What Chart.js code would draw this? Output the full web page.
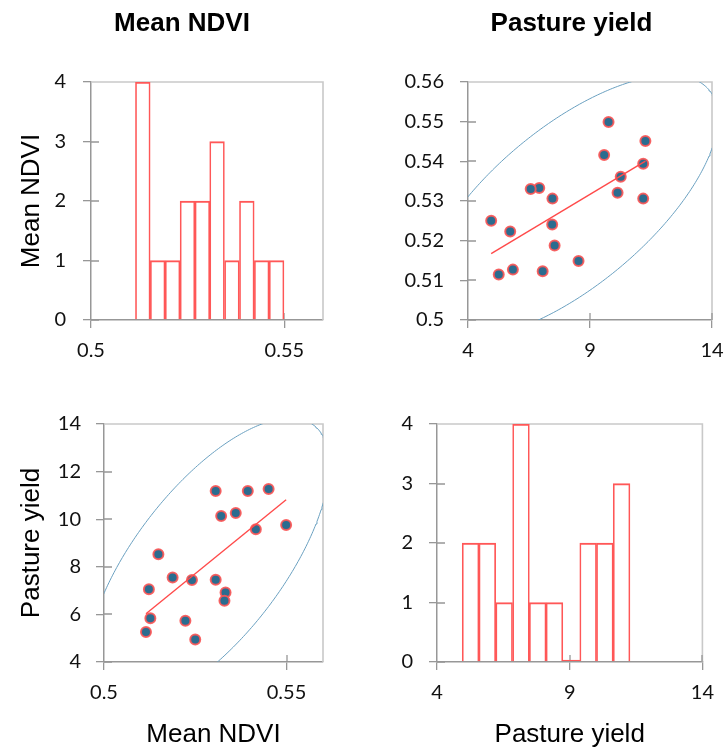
<!DOCTYPE html>
<html><head><meta charset="utf-8">
<script src="https://cdn.jsdelivr.net/npm/chart.js@4.4.1/dist/chart.umd.min.js"></script>
<style>
html,body{margin:0;padding:0;background:#fff;width:725px;height:751px;overflow:hidden;position:relative}
canvas{position:absolute;display:block}
</style></head><body>
<canvas id="tl" width="353" height="370" style="left:0;top:0;width:353px;height:370px"></canvas>
<canvas id="tr" width="392" height="370" style="left:353px;top:0;width:392px;height:370px"></canvas>
<canvas id="bl" width="353" height="381" style="left:0;top:370px;width:353px;height:381px"></canvas>
<canvas id="br" width="372" height="381" style="left:353px;top:370px;width:372px;height:381px"></canvas>
<script>
// ---- data ----
const ndviValues  = [0.5306,0.5394,0.5451,0.5321,0.5361,0.5416,0.5499,0.5149,0.5188,0.5241,0.5306,0.5123,0.5333,0.5330,0.5127,0.5223,0.5115,0.5250];
const yieldValues = [11.18,11.18,11.27,10.13,10.26,9.58,9.76,8.53,7.55,7.45,7.46,7.06,6.92,6.57,5.84,5.73,5.26,4.95];
const ndviBinEdges  = [0.5115,0.5153,0.5192,0.5230,0.5269,0.5307,0.5345,0.5384,0.5422,0.5461,0.5499];
const ndviCounts    = [4,1,1,2,2,3,1,2,1,1];
const yieldBinEdges = [4.95,5.58,6.21,6.85,7.48,8.11,8.74,9.38,10.01,10.64,11.27];
const yieldCounts   = [2,2,1,4,1,1,0,2,2,3];
const ndviTicks  = [0.5, 0.55];
const ndviYTicks = [0.5, 0.51, 0.52, 0.53, 0.54, 0.55, 0.56];
const yieldTicks = [4, 9, 14];
const yieldYTicks = [4, 6, 8, 10, 12, 14];
const countTicks = [0, 1, 2, 3, 4];
const headers = ['Mean NDVI', 'Pasture yield'];

// ---- derived statistics (regression line, 95% ellipse) ----
function stats(xs, ys) {
  const n = xs.length;
  const mx = xs.reduce((a,b)=>a+b,0)/n, my = ys.reduce((a,b)=>a+b,0)/n;
  let sxx=0, syy=0, sxy=0;
  for (let i=0;i<n;i++){ const dx=xs[i]-mx, dy=ys[i]-my; sxx+=dx*dx; syy+=dy*dy; sxy+=dx*dy; }
  return {n, mx, my, vx:sxx/(n-1), vy:syy/(n-1), cov:sxy/(n-1), slope:sxy/sxx};
}
function regLine(xs, ys) {
  const s = stats(xs, ys);
  const x0 = Math.min(...xs), x1 = Math.max(...xs);
  return [{x:x0, y:s.my + s.slope*(x0-s.mx)}, {x:x1, y:s.my + s.slope*(x1-s.mx)}];
}
function ellipse(xs, ys) {
  const s = stats(xs, ys);
  const n = s.n, d2 = n-2;
  const F = (d2/2)*(Math.pow(0.05, -2/d2) - 1);
  const c = 2*(n-1)*(n+1)/(n*(n-2))*F;
  const k = Math.sqrt(c);
  const sx = Math.sqrt(s.vx), sy = Math.sqrt(s.vy), r = s.cov/(sx*sy);
  const pts = [];
  for (let i=0;i<=360;i++){
    const t = i/360*2*Math.PI;
    pts.push({x: s.mx + k*sx*Math.cos(t), y: s.my + k*sy*(r*Math.cos(t) + Math.sqrt(1-r*r)*Math.sin(t))});
  }
  return pts;
}

// ---- styling ----
const AXIS = '#979797', FRAME = '#c9c9c9';
const TICKFONT = {family:'Lato', size:20};
const TITLEFONT = {family:'Liberation Sans', size:26};
const HEADFONT = {family:'Liberation Sans', size:26, weight:'bold'};
const fmt = v => String(+Number(v).toFixed(2));

const framePlugin = {
  id:'frame',
  beforeDatasetsDraw(chart){
    const {ctx, chartArea:{left,top,right,bottom}, scales:{x,y}} = chart;
    ctx.save();
    ctx.strokeStyle = FRAME; ctx.lineWidth = 1.6;
    ctx.beginPath(); ctx.moveTo(left, top); ctx.lineTo(right, top); ctx.lineTo(right, bottom); ctx.stroke();
    ctx.strokeStyle = AXIS; ctx.lineWidth = 1.3;
    ctx.beginPath();
    y.ticks.forEach(t => { const p = Math.round(y.getPixelForValue(t.value)); if (p > top+1) { ctx.moveTo(left, p); ctx.lineTo(left+8, p); } });
    x.ticks.forEach(t => { const p = Math.round(x.getPixelForValue(t.value)); if (p > left+1) { ctx.moveTo(p, bottom); ctx.lineTo(p, bottom-7); } });
    ctx.stroke();
    ctx.restore();
  }
};

function axis(cfg) {
  const a = {
    type:'linear', min:cfg.min, max:cfg.max, offset:false,
    grid:{display:true, offset:false, drawOnChartArea:false, drawTicks:true, tickLength:8, color:AXIS, lineWidth:1.3},
    border:{display:true, color:AXIS, width:1.5},
    ticks:{color:'#111', font:TICKFONT, padding:cfg.pad, callback:fmt, autoSkip:false, maxRotation:0},
    afterBuildTicks: s => { s.ticks = cfg.ticks.map(v => ({value:v})); },
    afterFit: s => { if (cfg.w !== undefined) s.width = cfg.w; if (cfg.h !== undefined) s.height = cfg.h; }
  };
  if (cfg.title) a.title = {display:true, text:cfg.title, color:'#000', font:TITLEFONT, padding:cfg.titlePad};
  return a;
}
// an empty right-hand spacer box (keeps the column header centred over the column)
function spacer(w) {
  return {type:'linear', position:'right', display:true, grid:{display:false}, border:{display:false},
          ticks:{display:false}, afterFit: s => { s.width = w; }};
}

function histDataset(edges, counts) {
  return {
    type:'bar',
    data: counts.map((c,i)=>({x:(edges[i]+edges[i+1])/2, y:c})),
    backgroundColor:'rgba(255,255,255,0)',
    borderColor:'#ff5757',
    borderWidth:{top:1.5, left:1, right:1, bottom:0},
    borderSkipped:'start',
    barPercentage:1, categoryPercentage:1, minBarLength:2
  };
}
function scatterDatasets(xs, ys) {
  return [
    {type:'scatter', data:regLine(xs, ys), showLine:true, borderColor:'#ff4a4a', borderWidth:1.4, pointRadius:0, order:0},
    {type:'scatter', data:xs.map((v,i)=>({x:v, y:ys[i]})), pointRadius:5, pointBorderWidth:2,
     pointBackgroundColor:'#2b6c8f', pointBorderColor:'rgba(250,85,85,0.9)', showLine:false, order:1},
    {type:'scatter', data:ellipse(xs, ys), showLine:true, borderColor:'#6aa0c0', borderWidth:1, pointRadius:0, tension:0, order:2}
  ];
}
function baseOptions(padding, header) {
  return {
    responsive:false, animation:false, events:[],
    layout:{padding},
    plugins:{
      legend:{display:false}, tooltip:{enabled:false},
      title: header ? {display:true, text:header, color:'#000', font:HEADFONT, padding:{top:8, bottom:42.8}} : {display:false}
    }
  };
}

// Top-left: histogram of Mean NDVI
new Chart(document.getElementById('tl'), {
  type:'bar',
  data:{datasets:[histDataset(ndviBinEdges, ndviCounts)]},
  options:Object.assign(baseOptions({left:41, right:30, top:0, bottom:0}, headers[0]), {
    scales:{
      x: axis({min:0.5, max:0.56, ticks:ndviTicks, pad:11, h:50}),
      y: axis({min:0, max:4, ticks:countTicks, pad:17, w:50, title:'Mean NDVI', titlePad:{top:-24.6, bottom:0}})
    }
  }),
  plugins:[framePlugin]
});

// Top-right: NDVI vs Pasture yield
new Chart(document.getElementById('tr'), {
  type:'scatter',
  data:{datasets:scatterDatasets(yieldValues, ndviValues)},
  options:Object.assign(baseOptions({left:45, right:0, top:0, bottom:0}, headers[1]), {
    scales:{
      x: axis({min:4, max:14, ticks:yieldTicks, pad:11, h:50}),
      y: axis({min:0.5, max:0.56, ticks:ndviYTicks, pad:16, w:70}),
      yR: spacer(33)
    }
  }),
  plugins:[framePlugin]
});

// Bottom-left: Pasture yield vs NDVI
new Chart(document.getElementById('bl'), {
  type:'scatter',
  data:{datasets:scatterDatasets(ndviValues, yieldValues)},
  options:Object.assign(baseOptions({left:0, right:30, top:54, bottom:0}, null), {
    scales:{
      x: axis({min:0.5, max:0.56, ticks:ndviTicks, pad:11, h:89, title:'Mean NDVI', titlePad:{top:0, bottom:1}}),
      y: axis({min:4, max:14, ticks:yieldYTicks, pad:15, w:104, title:'Pasture yield', titlePad:{top:16.4, bottom:0}})
    }
  }),
  plugins:[framePlugin]
});

// Bottom-right: histogram of Pasture yield
new Chart(document.getElementById('br'), {
  type:'bar',
  data:{datasets:[histDataset(yieldBinEdges, yieldCounts)]},
  options:Object.assign(baseOptions({left:0, right:13, top:54, bottom:0}, null), {
    scales:{
      x: axis({min:4, max:14, ticks:yieldTicks, pad:11, h:89, title:'Pasture yield', titlePad:{top:0, bottom:1}}),
      y: axis({min:0, max:4, ticks:countTicks, pad:16, w:84})
    }
  }),
  plugins:[framePlugin]
});
</script>
</body></html>
